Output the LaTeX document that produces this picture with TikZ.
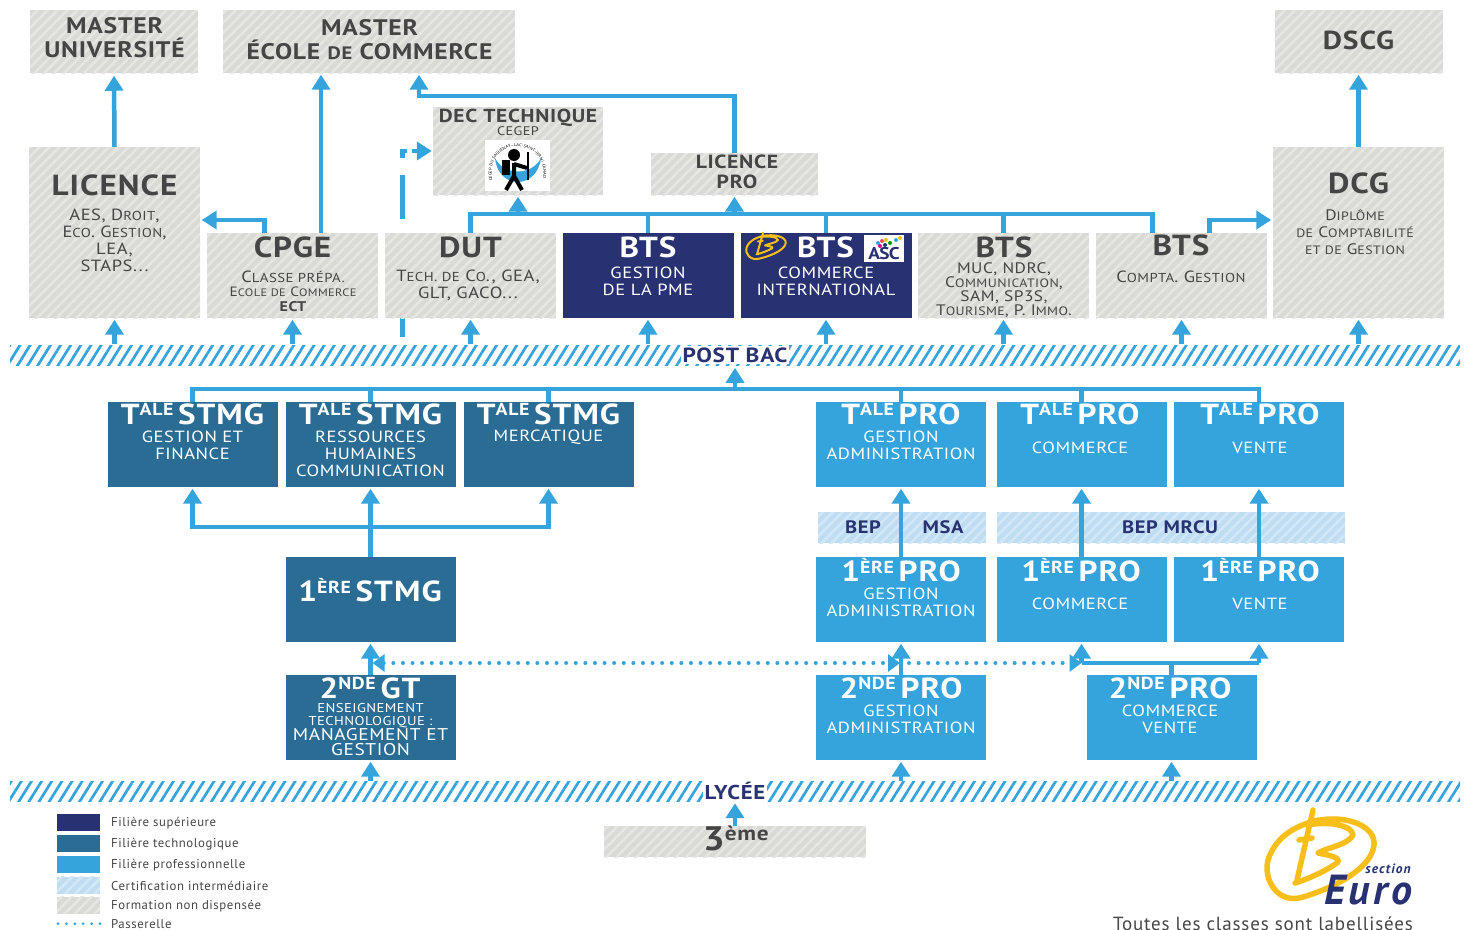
\documentclass[tikz,border=0pt]{standalone}
\usepackage{fontspec}
\setmainfont[LetterSpace=3.5,FakeStretch=1.14]{PT Sans}
\newfontfamily\legfont[LetterSpace=4.5]{PT Sans}
\newfontfamily\eurofont[LetterSpace=8]{PT Sans}
\usetikzlibrary{arrows.meta,patterns.meta,backgrounds,decorations.text}
\definecolor{fleuve}{HTML}{35A3DC}
\definecolor{marine}{HTML}{283172}
\definecolor{techno}{HTML}{2A6C94}
\definecolor{grisbase}{HTML}{D9DAD5}
\definecolor{grisraie}{HTML}{E6E7E2}
\definecolor{ciel}{HTML}{BFDDF2}
\definecolor{cielraie}{HTML}{D2E8F7}
\definecolor{encre}{HTML}{454545}
\definecolor{ocre}{HTML}{F8BE1A}
\makeatletter
\newcommand\petit[1]{{\fontsize{\fpeval{.8*\f@size}}{1}\selectfont #1}}
\newcommand\hautlet[1]{\raisebox{.3em}{\fontsize{\fpeval{.6*\f@size}}{1}\selectfont #1}\hspace{-.16em}}
\makeatother
\tikzset{
  boite/.style={inner sep=0pt,minimum width=170pt,minimum height=85pt},
  boiteSup/.style={boite,fill=marine},
  boiteTech/.style={boite,fill=techno},
  boitePro/.style={boite,fill=fleuve},
  boiteCertif/.style={boite,preaction={fill=ciel},pattern={Lines[angle=45,distance=7pt,line width=2.5pt]},pattern color=cielraie},
  boiteGris/.style={boite,preaction={fill=grisbase},pattern={Lines[angle=45,distance=7pt,line width=2.5pt]},pattern color=grisraie},
  bande/.style={inner sep=0pt,minimum width=1450pt,minimum height=20pt,pattern={Lines[angle=58,distance=8.6pt,line width=2.7pt]},pattern color=fleuve},
  bandetxt/.style={inner sep=2pt,fill=white,text=marine,font=\bfseries\fontsize{20.5}{20.5}\selectfont},
  bep/.style={bandetxt,fill=none,font=\bfseries\fontsize{18}{18}\selectfont},
  titre/.style={inner sep=0pt,align=center,text=encre,font=\bfseries\fontsize{29}{29}\selectfont},
  titreB/.style={titre,text=white},
  sous/.style={inner sep=0pt,align=center,text=encre,font=\fontsize{16.2}{17}\selectfont},
  sousB/.style={sous,text=white},
  flow/.style={draw=fleuve,line width=4.5pt,->,shorten >=1.5pt},
  bus/.style={draw=fleuve,line width=4.5pt},
  passerelle/.style={draw=fleuve,line width=4pt,line cap=round,dash pattern=on 0pt off 9.6pt},
  legtxt/.style={inner sep=0pt,anchor=west,text=encre,yshift=-.7pt,font=\legfont\fontsize{12.8}{12.8}\selectfont},
  logoB/.pic={
    \draw[pic actions,line cap=round,line join=round]
      (-7,-33) .. controls (25,-42) and (58,-30) .. (56,-10)
      .. controls (54,10) and (25,30) .. (-15,42)
      .. controls (-40,50) and (-55,25) .. (-50,5)
      .. controls (-42,-20) and (-20,-30) .. (0,-35)
      (-5,-45) -- (-21,25)
      (-19,-15) -- (-6,-17)
      (-11,-30) .. controls (10,-34) and (34,-30) .. (35,-20)
      .. controls (30,-10) and (10,-8) .. (0,-2)
      .. controls (10,0) and (22,2) .. (20,7)
      .. controls (10,15) and (-10,24) .. (-23,28);
  },
}
\begin{document}
\begin{tikzpicture}[x=1pt,y=-1pt]
\tikzset{>={Triangle[width=18pt,length=15pt]}}
\useasboundingbox (0,0) rectangle (1472,929);
% bandes
\node[bande] (postband) at (735,355) {};
\node[bande] (lyceeband) at (735,791.5) {};
\node[bandetxt] (postbacT) at (735,355) {POST BAC};
\node[bandetxt,font=\bfseries\fontsize{20}{20}\selectfont] (lyceeT) at (735,791) {LYCÉE};
% boites haut
\node[boiteGris,minimum width=168pt,minimum height=63pt] (masterU) at (114,41.5) {};
\node[boiteGris,minimum width=292pt,minimum height=63pt] (masterE) at (369,41.5) {};
\node[boiteGris,minimum width=168pt,minimum height=63pt] (dscg) at (1358.5,41.5) {};
\node[boiteGris,minimum width=171pt,minimum height=171pt] (licence) at (114.5,232.5) {};
\node[boiteGris,minimum width=171pt,minimum height=171pt] (dcg) at (1358.5,232.5) {};
\node[boiteGris,minimum height=88pt] (dec) at (518,151) {};
\node[boiteGris,minimum width=167pt,minimum height=42pt] (lpro) at (734.5,174) {};
\node[boiteGris,minimum width=171pt] (cpge) at (292.5,275.5) {};
\node[boiteGris,minimum width=171pt] (dut) at (470.5,275.5) {};
\node[boiteSup,minimum width=171pt] (btsPme) at (648,275.5) {};
\node[boiteSup,minimum width=171pt] (btsCi) at (826,275.5) {};
\node[boiteGris,minimum width=171pt] (btsMuc) at (1003.5,275.5) {};
\node[boiteGris,minimum width=171pt] (btsCompta) at (1181.5,275.5) {};
% boites lycee
\node[boiteTech] (taleGf) at (192.5,444.5) {};
\node[boiteTech] (taleRh) at (370.5,444.5) {};
\node[boiteTech] (taleMk) at (548.5,444.5) {};
\node[boitePro] (talePa) at (901,444.5) {};
\node[boitePro] (talePc) at (1081.5,444.5) {};
\node[boitePro] (talePv) at (1259,444.5) {};
\node[boiteCertif,minimum width=168pt,minimum height=31pt] (bepMsa) at (902,527.5) {};
\node[boiteCertif,minimum width=348pt,minimum height=31pt] (bepMrcu) at (1171,527.5) {};
\node[boiteTech] (preSt) at (370.5,599.5) {};
\node[boitePro] (prePa) at (901,599.5) {};
\node[boitePro] (prePc) at (1081.5,599.5) {};
\node[boitePro] (prePv) at (1259,599.5) {};
\node[boiteTech] (ndeGt) at (370.5,717.5) {};
\node[boitePro] (ndePa) at (901,717.5) {};
\node[boitePro] (ndeCv) at (1171.5,717.5) {};
\node[boiteGris,minimum width=262pt,minimum height=31pt] (troisE) at (735,841.5) {};
% textes haut
\node[titre,font=\bfseries\fontsize{22.5}{24}\selectfont] (masterUT) at (114.5,38) {MASTER\\UNIVERSITÉ};
\node[titre,font=\bfseries\fontsize{22.5}{24}\selectfont] (masterET) at (369.5,40) {MASTER\\ÉCOLE \petit{DE} COMMERCE};
\node[titre,font=\bfseries\fontsize{26}{26}\selectfont] (dscgT) at (1358.5,40) {DSCG};
\node[titre] (licenceT) at (114.5,185) {LICENCE};
\node[sous] (licenceS) at (114.5,240.5) {AES, D\petit{ROIT},\\E\petit{CO}. G\petit{ESTION},\\LEA,\\STAPS...};
\node[titre] (dcgT) at (1358.5,183) {DCG};
\node[sous,font=\fontsize{15.2}{17}\selectfont] (dcgS) at (1355,232) {D\petit{IPLÔME}\\\petit{DE} C\petit{OMPTABILITÉ}\\\petit{ET DE} G\petit{ESTION}};
\node[titre,font=\bfseries\fontsize{18.8}{19}\selectfont] (decT) at (518,117.5) {DEC TECHNIQUE};
\node[sous,font=\fontsize{12.5}{13}\selectfont] (decS) at (518,131.5) {CEGEP};
\node[titre,font=\bfseries\fontsize{19}{19.5}\selectfont] (lproT) at (737,172) {LICENCE\\PRO};
\node[titre] (cpgeT) at (292.5,247) {CPGE};
\node[sous] (cpgeS) at (293,277) {C\petit{LASSE PRÉPA.}};
\node[sous,font=\fontsize{13.5}{14}\selectfont] (cpgeC) at (293,292) {E\petit{COLE DE} C\petit{OMMERCE}};
\node[titre,font=\bfseries\fontsize{14}{14}\selectfont] (cpgeE) at (293,307) {ECT};
\node[titre] (dutT) at (470.5,247) {DUT};
\node[sous] (dutS) at (468,285.5) {T\petit{ECH. DE} C\petit{O}., GEA,\\GLT, GACO...};
\node[titreB] (btsPmeT) at (648,247) {BTS};
\node[sousB] (btsPmeS) at (648,281.5) {GESTION\\DE LA PME};
\node[titreB] (btsCiT) at (825.5,247) {BTS};
\node[sousB] (btsCiS) at (826,281.5) {COMMERCE\\INTERNATIONAL};
\node[titre] (btsMucT) at (1004,247) {BTS};
\node[sous,font=\fontsize{15.2}{12.6}\selectfont] (btsMucS) at (1004,290.5) {MUC, NDRC,\\C\petit{OMMUNICATION},\\SAM, SP3S,\\T\petit{OURISME}, P. I\petit{MMO}.};
\node[titre] (btsComptaT) at (1181,245) {BTS};
\node[sous] (btsComptaS) at (1181,277) {C\petit{OMPTA}. G\petit{ESTION}};
% textes lycee
\node[titreB] (taleGfT) at (192.5,414) {T\hautlet{ALE} STMG};
\node[sousB] (taleGfS) at (192.5,445.5) {GESTION ET\\FINANCE};
\node[titreB] (taleRhT) at (370.5,414) {T\hautlet{ALE} STMG};
\node[sousB] (taleRhS) at (370.5,454) {RESSOURCES\\HUMAINES\\COMMUNICATION};
\node[titreB] (taleMkT) at (548.5,414) {T\hautlet{ALE} STMG};
\node[sousB] (taleMkS) at (548.5,437) {MERCATIQUE};
\node[titreB] (talePaT) at (901,414) {T\hautlet{ALE} PRO};
\node[sousB] (talePaS) at (901,445.5) {GESTION\\ADMINISTRATION};
\node[titreB] (talePcT) at (1080,414) {T\hautlet{ALE} PRO};
\node[sousB] (talePcS) at (1080,447.5) {COMMERCE};
\node[titreB] (talePvT) at (1260,414) {T\hautlet{ALE} PRO};
\node[sousB] (talePvS) at (1260,447.5) {VENTE};
\node[bep] (bepT) at (863,527.5) {BEP};
\node[bep] (msaT) at (943,527.5) {MSA};
\node[bep] (mrcuT) at (1170,527.5) {BEP MRCU};
\node[titreB] (preStT) at (370,590) {1\hautlet{ÈRE} STMG};
\node[titreB] (prePaT) at (901,570) {1\hautlet{ÈRE} PRO};
\node[sousB] (prePaS) at (901,602) {GESTION\\ADMINISTRATION};
\node[titreB] (prePcT) at (1081,570) {1\hautlet{ÈRE} PRO};
\node[sousB] (prePcS) at (1080,604) {COMMERCE};
\node[titreB] (prePvT) at (1260,570) {1\hautlet{ÈRE} PRO};
\node[sousB] (prePvS) at (1260,604) {VENTE};
\node[titreB] (ndeGtT) at (370,688) {2\hautlet{NDE} GT};
\node[sousB,font=\fontsize{12.8}{13}\selectfont] (ndeGtS) at (370.5,716) {ENSEIGNEMENT\\TECHNOLOGIQUE :};
\node[sousB,font=\fontsize{17}{14.5}\selectfont] (ndeGtG) at (370.5,742) {MANAGEMENT ET\\GESTION};
\node[titreB] (ndePaT) at (901,688) {2\hautlet{NDE} PRO};
\node[sousB] (ndePaS) at (901,719.5) {GESTION\\ADMINISTRATION};
\node[titreB] (ndeCvT) at (1170,688) {2\hautlet{NDE} PRO};
\node[sousB] (ndeCvS) at (1170,719.5) {COMMERCE\\VENTE};
\node[titre,font=\bfseries\fontsize{34}{34}\selectfont] (troisT) at (733,838) {3\hautlet{ème}};
% logo cegep
\node[inner sep=0pt,fill=white,minimum width=65pt,minimum height=51pt] (cegepLogo) at (517.5,165.5) {};
\fill[fleuve] (495,158) .. controls (498,190) and (537,190) .. (541,158) .. controls (532,176) and (504,176) .. (495,158);
\fill[black] (514,155) circle (6);
\fill[black] (502,160) rectangle (510,175);
\draw[black,line width=4pt,line join=round] (514,163) -- (514,176) -- (506,190) (514,176) -- (522,190) (514,164) -- (527,168);
\draw[black,line width=2.5pt] (528,152) -- (528,180);
\path[decorate,decoration={text along path,text format delimiters={[}{]},text align=center,
  text={[\fontsize{4}{4}\selectfont]CÉGEP DU SAGUENAY–LAC-SAINT-JEAN | CANADA}}]
  (492,178) .. controls (486,136) and (549,136) .. (543,178);
% logo bts
\path (765,246) pic[draw=ocre,line width=2pt,xscale=.37,yscale=.3] {logoB};
\node[inner sep=0pt,fill=white,minimum width=40pt,minimum height=27pt] (ascLogo) at (884,248.5) {};
\node[inner sep=0pt,text=marine,font=\bfseries\fontsize{17}{17}\selectfont] (ascT) at (884,254) {\addfontfeature{LetterSpace=-4}ASC};
\foreach \cx/\cy/\coul in {878/243/fleuve,882/241/red!70,886/240/ocre,890/243/green!60!black,885/245/marine,880/246/magenta,896/240/fleuve,900/238/ocre}
  \fill[\coul] (\cx,\cy) circle (2);
% logo section euro
\path (1318,855) pic[draw=ocre,line width=5.5pt] {logoB};
\node[inner sep=0pt,text=marine,font=\eurofont\bfseries\itshape\fontsize{13.5}{13.5}\selectfont] (sectionT) at (1388,869) {section};
\node[inner sep=0pt,text=marine,font=\eurofont\bfseries\itshape\fontsize{42}{42}\selectfont] (euroT) at (1368,890) {Euro};
\node[inner sep=0pt,text=encre,font=\legfont\fontsize{19}{19}\selectfont] (labelT) at (1263,923.5) {Toutes les classes sont labellisées};
% legende
\foreach \nom/\sty/\cy/\txt in {a/boiteSup/822.5/Filière supérieure,b/boiteTech/843.5/Filière technologique,c/boitePro/864/Filière professionnelle,d/boiteCertif/885/Certification intermédiaire,e/boiteGris/905/Formation non dispensée}{
  \node[\sty,minimum width=43pt,minimum height=17pt] (leg\nom) at (78.5,\cy) {};
  \node[legtxt] (legT\nom) at (111,\cy) {\txt};
}
\node[legtxt] (legTf) at (111,923) {Passerelle};
\coordinate (legPa) at (legTf.west);
\draw[draw=fleuve,line width=3pt,line cap=round,dash pattern=on 0pt off 8.4pt] ([xshift=-53pt]legPa) -- ([xshift=-11pt]legPa);
% fleches
\begin{scope}[on background layer]
  \draw[draw=fleuve,line width=4.5pt,->,dash pattern=on 44pt off 15pt on 44pt off 15pt on 44pt off 17pt on 12pt off 5pt on 20pt] ([xshift=-68pt,yshift=-19pt]dut.south) -- ([xshift=-68pt]dut.south |- dec.west) -- ([xshift=-1pt]dec.west);
\end{scope}
\draw[flow] (licence.north) -- (masterU.south);
\draw[flow] ([xshift=28.5pt]cpge.north) -- ([xshift=28.5pt]cpge.north |- masterE.south);
\draw[flow] ([xshift=-28pt]cpge.north) |- ([yshift=12.5pt]licence.east);
\draw[flow] ([xshift=28pt]btsCompta.north) |- ([yshift=12.5pt]dcg.west);
\draw[flow] (dcg.north) -- (dscg.south);
\draw[flow] (lpro.north) -- ++(0,-57) -| ([xshift=50pt]masterE.south);
\coordinate (busBts) at (0,214);
\draw[bus] (dut.north) -- (dut.north |- busBts) -- ([xshift=-29pt]btsCompta.north |- busBts) -- ([xshift=-29pt]btsCompta.north);
\foreach \n in {btsPme,btsCi,btsMuc}
  \draw[bus] (\n.north) -- (\n.north |- busBts);
\draw[flow] (dec.south |- busBts) -- (dec.south);
\draw[flow] (lpro.south |- busBts) -- (lpro.south);
\foreach \n in {licence,cpge,dut,btsPme,btsCi,btsMuc,btsCompta,dcg}
  \draw[flow] (\n.south |- postband.north) -- (\n.south);
\coordinate (busTale) at (0,389);
\draw[bus] (taleGf.north) |- (talePv.north |- busTale) -- (talePv.north);
\foreach \n in {taleRh,taleMk,talePa,talePc}
  \draw[bus] (\n.north) -- (\n.north |- busTale);
\draw[flow] (postband.south |- busTale) -- (postband.south);
\coordinate (busPre) at (0,527);
\draw[flow] (preSt.north) -- (taleRh.south);
\draw[flow] (preSt.north |- busPre) -| (taleGf.south);
\draw[flow] (preSt.north |- busPre) -| (taleMk.south);
\draw[flow] (prePa.north) -- (talePa.south);
\draw[flow] (prePc.north) -- (talePc.south);
\draw[flow] (prePv.north) -- (talePv.south);
\coordinate (busNde) at (0,663);
\draw[flow] (ndeGt.north) -- (preSt.south);
\draw[flow] (ndePa.north) -- (prePa.south);
\draw[bus] (ndeCv.north) -- (ndeCv.north |- busNde);
\draw[flow] (prePc.south |- busNde) -- (prePc.south);
\draw[flow] (prePv.south |- busNde) -- (prePv.south);
\draw[bus] (prePc.south |- busNde) -- (prePv.south |- busNde);
\draw[passerelle,<->,>={Triangle[width=17pt,length=12pt]}] ([xshift=2pt]preSt.south |- busNde) -- ([xshift=-1pt]prePa.south |- busNde);
\draw[passerelle,->,>={Triangle[width=17pt,length=12pt]}] ([xshift=8pt]prePa.south |- busNde) -- (prePc.south |- busNde);
\draw[flow] (troisE.north) -- (lyceeband.south);
\foreach \n in {ndeGt,ndePa,ndeCv}
  \draw[flow] (\n.south |- lyceeband.north) -- (\n.south);
\end{tikzpicture}
\end{document}
